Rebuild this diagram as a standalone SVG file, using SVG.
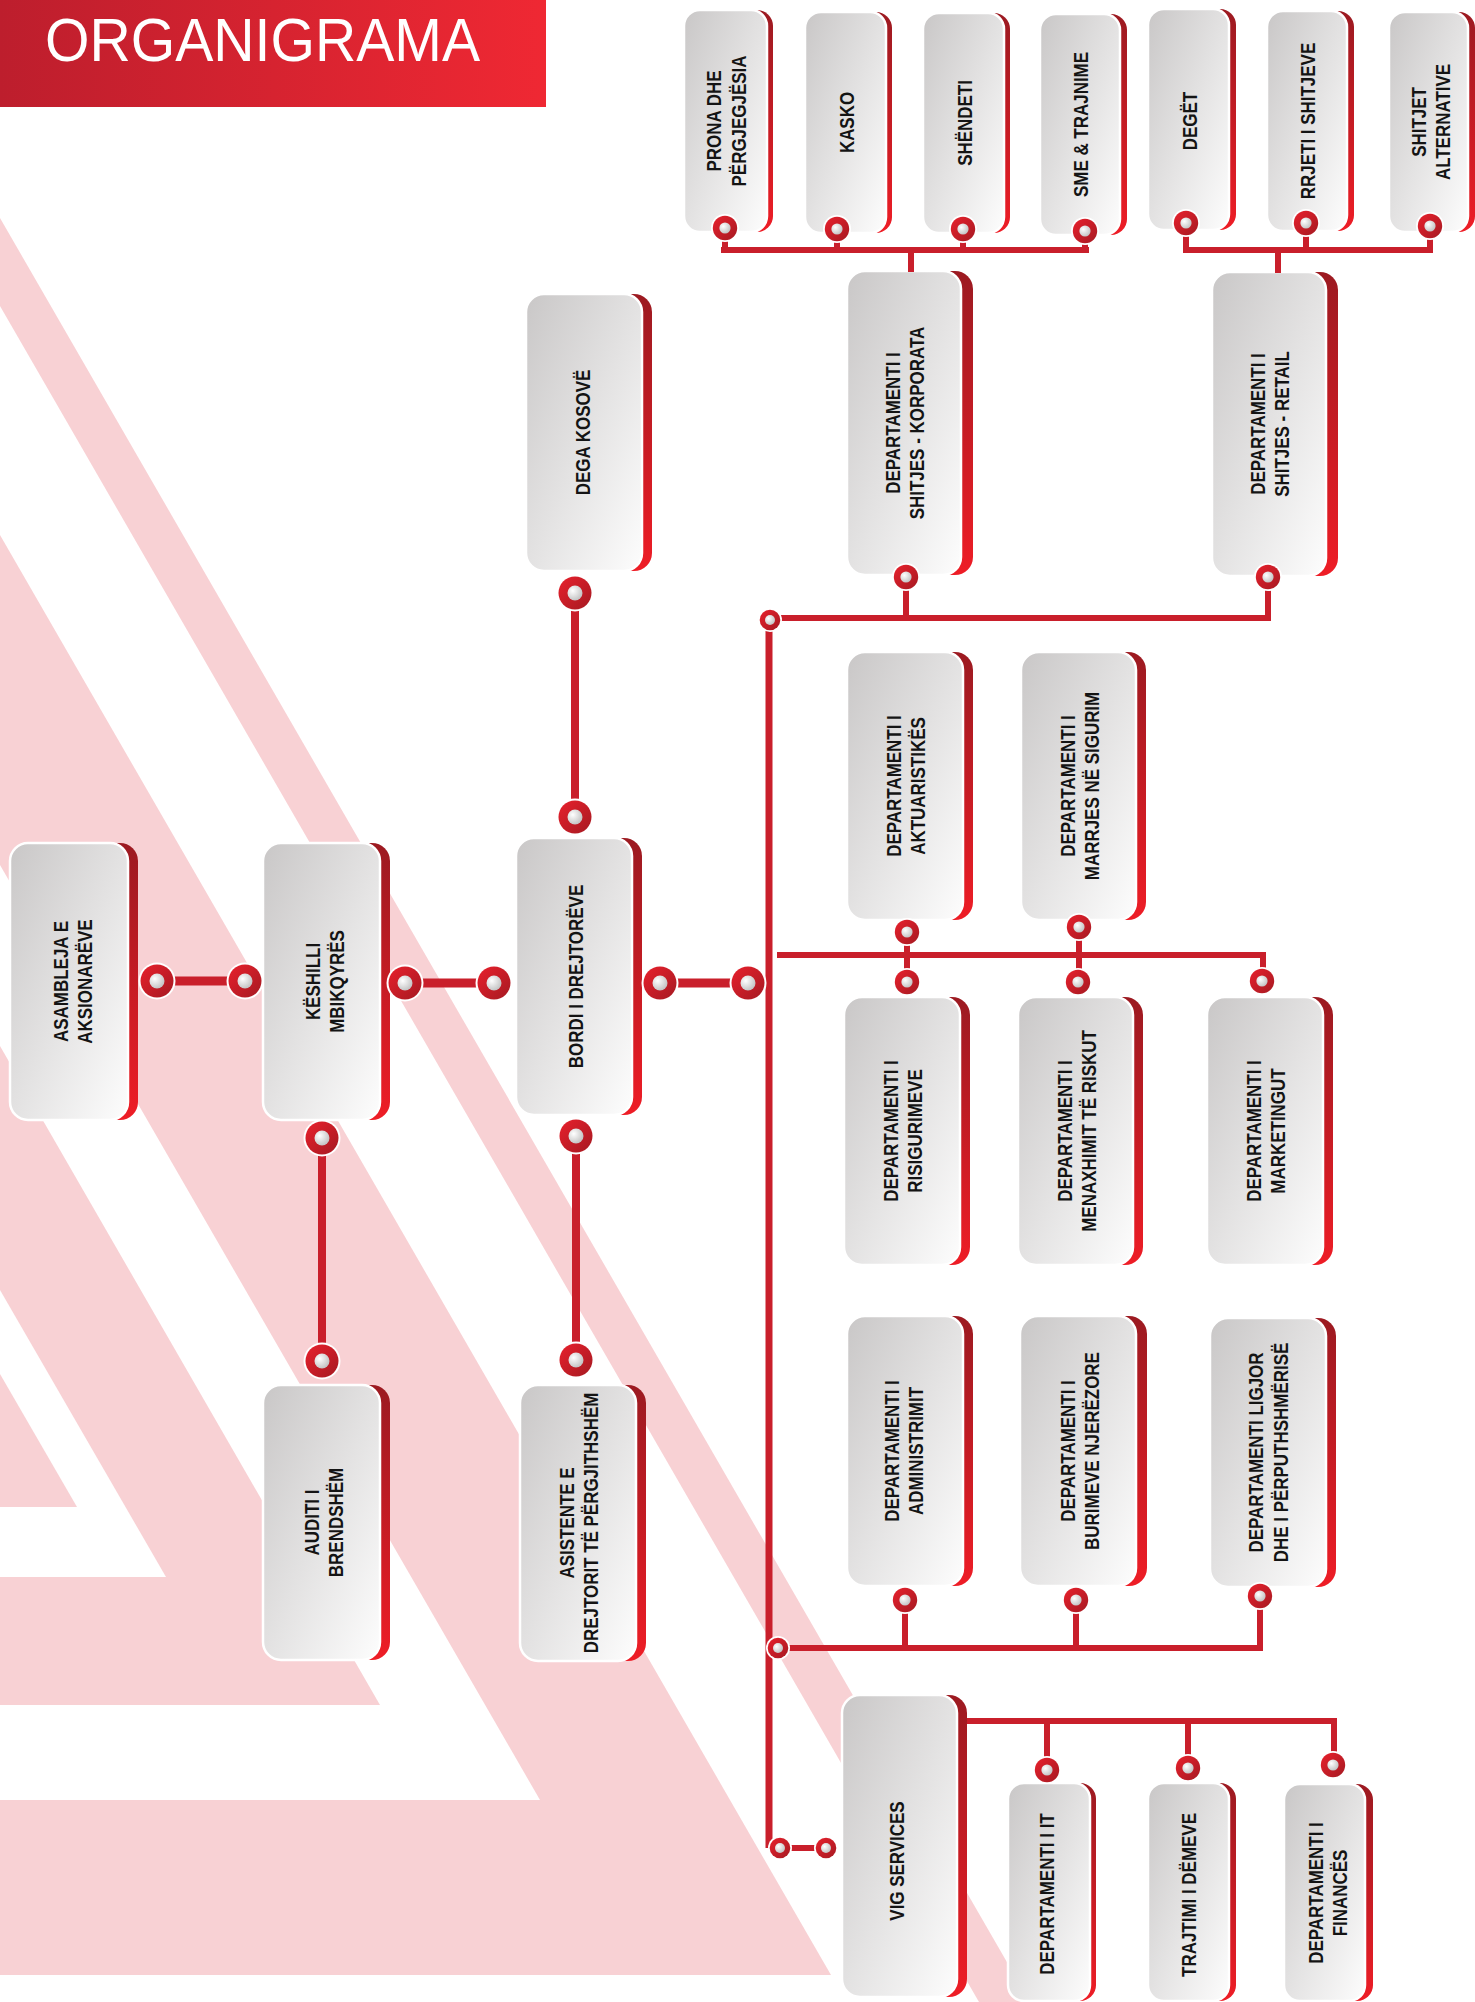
<svg xmlns="http://www.w3.org/2000/svg" width="1475" height="2002" viewBox="0 0 1475 2002">
<defs>
<linearGradient id="banner" x1="0" y1="0" x2="1" y2="0"><stop offset="0" stop-color="#bd1e2d"/><stop offset="1" stop-color="#ef2833"/></linearGradient>
<linearGradient id="gray" x1="0" y1="0" x2="1" y2="1"><stop offset="0" stop-color="#c9c7c7"/><stop offset="1" stop-color="#fdfdfd"/></linearGradient>
<linearGradient id="red" x1="0" y1="0" x2="0" y2="1"><stop offset="0" stop-color="#9c1a21"/><stop offset="1" stop-color="#ee1d26"/></linearGradient>
<linearGradient id="cr" x1="0" y1="0" x2="1" y2="1"><stop offset="0" stop-color="#e8202c"/><stop offset="1" stop-color="#a51a22"/></linearGradient>
<radialGradient id="ci" cx="0.35" cy="0.35" r="0.75"><stop offset="0" stop-color="#ffffff"/><stop offset="1" stop-color="#bdbdbd"/></radialGradient>
<g id="cL"><circle r="18.5" fill="#fff"/><circle r="16.5" fill="url(#cr)"/><circle r="7.5" fill="url(#ci)"/></g>
<g id="cM"><circle r="14" fill="#fff"/><circle r="12.2" fill="url(#cr)"/><circle r="5.6" fill="url(#ci)"/></g>
<g id="cS"><circle r="12" fill="#fff"/><circle r="10.3" fill="url(#cr)"/><circle r="5" fill="url(#ci)"/></g>
</defs>
<style>
.bg{fill:#f8d1d4}
.wh{fill:#ffffff}
.g{fill:url(#gray);stroke:#ffffff;stroke-width:2.5}
.r{fill:url(#red)}
.t{font-family:'Liberation Sans',Arial,sans-serif;font-weight:bold;font-size:19.5px;fill:#141414;text-anchor:middle}
.ln{stroke:#c91f2b;fill:none;stroke-linecap:butt}
.w9{stroke-width:9}
.w8{stroke-width:8}
.w7{stroke-width:7}
.w6{stroke-width:6}
</style>
<rect width="1475" height="2002" fill="#ffffff"/>
<g id="background">
<polygon class="bg" points="0,218 1030,2002 979,2002 0,306"/>
<polygon class="bg" points="0,535 831,1975 0,1975"/>
<polygon class="wh" points="0,865 540,1800 0,1800"/>
<polygon class="bg" points="0,1046 380,1705 0,1705"/>
<polygon class="wh" points="0,1290 166,1577 0,1577"/>
<polygon class="bg" points="0,1374 77,1507 0,1507"/>
</g>
<g id="title">
<rect x="0" y="0" width="546" height="107" fill="url(#banner)"/>
<text x="45" y="61" font-family="'Liberation Sans',Arial,sans-serif" font-size="62" fill="#ffffff" textLength="435" lengthAdjust="spacingAndGlyphs">ORGANIGRAMA</text>
</g>
<g id="nodes">
<g id="n-prona"><rect class="r" x="690" y="10" width="83" height="222" rx="16"/><rect class="g" x="684" y="10" width="83" height="222" rx="16"/><text class="t" transform="translate(726.5,121) rotate(-90) scale(0.87,1)"><tspan x="0" y="-5.25">PRONA DHE</tspan><tspan x="0" y="19.25">PËRGJEGJËSIA</tspan></text></g>
<g id="n-kasko"><rect class="r" x="811" y="12" width="81" height="221" rx="16"/><rect class="g" x="805" y="12" width="81" height="221" rx="16"/><text class="t" transform="translate(846.5,122.5) rotate(-90) scale(0.87,1)"><tspan x="0" y="7">KASKO</tspan></text></g>
<g id="n-shendeti"><rect class="r" x="929" y="13" width="81" height="220" rx="16"/><rect class="g" x="923" y="13" width="81" height="220" rx="16"/><text class="t" transform="translate(964.5,123) rotate(-90) scale(0.87,1)"><tspan x="0" y="7">SHËNDETI</tspan></text></g>
<g id="n-sme"><rect class="r" x="1047" y="14" width="80" height="221" rx="16"/><rect class="g" x="1040" y="14" width="80" height="221" rx="16"/><text class="t" transform="translate(1081,124.5) rotate(-90) scale(0.87,1)"><tspan x="0" y="7">SME &amp; TRAJNIME</tspan></text></g>
<g id="n-deget"><rect class="r" x="1155" y="9" width="81" height="221" rx="16"/><rect class="g" x="1148" y="9" width="81" height="221" rx="16"/><text class="t" transform="translate(1189.5,121) rotate(-90) scale(0.87,1)"><tspan x="0" y="7">DEGËT</tspan></text></g>
<g id="n-rrjeti"><rect class="r" x="1274" y="11" width="80" height="220" rx="16"/><rect class="g" x="1267" y="11" width="80" height="220" rx="16"/><text class="t" transform="translate(1308,121) rotate(-90) scale(0.87,1)"><tspan x="0" y="7">RRJETI I SHITJEVE</tspan></text></g>
<g id="n-shitjet-alt"><rect class="r" x="1396" y="12" width="79" height="220" rx="16"/><rect class="g" x="1389" y="12" width="79" height="220" rx="16"/><text class="t" transform="translate(1431,122) rotate(-90) scale(0.87,1)"><tspan x="0" y="-5.25">SHITJET</tspan><tspan x="0" y="19.25">ALTERNATIVE</tspan></text></g>
<g id="n-korporata"><rect class="r" x="859" y="271" width="114" height="304" rx="18"/><rect class="g" x="847" y="271" width="114" height="304" rx="18"/><text class="t" transform="translate(905,423) rotate(-90) scale(0.87,1)"><tspan x="0" y="-5.25">DEPARTAMENTI I</tspan><tspan x="0" y="19.25">SHITJES - KORPORATA</tspan></text></g>
<g id="n-retail"><rect class="r" x="1224" y="272" width="114" height="304" rx="18"/><rect class="g" x="1212" y="272" width="114" height="304" rx="18"/><text class="t" transform="translate(1270,424) rotate(-90) scale(0.87,1)"><tspan x="0" y="-5.25">DEPARTAMENTI I</tspan><tspan x="0" y="19.25">SHITJES - RETAIL</tspan></text></g>
<g id="n-dega"><rect class="r" x="536" y="294" width="116" height="277" rx="18"/><rect class="g" x="526" y="294" width="116" height="277" rx="18"/><text class="t" transform="translate(583,432.5) rotate(-90) scale(0.87,1)"><tspan x="0" y="7">DEGA KOSOVË</tspan></text></g>
<g id="n-aktuar"><rect class="r" x="857" y="652" width="116" height="268" rx="18"/><rect class="g" x="847" y="652" width="116" height="268" rx="18"/><text class="t" transform="translate(906,786) rotate(-90) scale(0.87,1)"><tspan x="0" y="-5.25">DEPARTAMENTI I</tspan><tspan x="0" y="19.25">AKTUARISTIKËS</tspan></text></g>
<g id="n-marrjes"><rect class="r" x="1031" y="652" width="115" height="268" rx="18"/><rect class="g" x="1021" y="652" width="115" height="268" rx="18"/><text class="t" transform="translate(1080,786) rotate(-90) scale(0.87,1)"><tspan x="0" y="-5.25">DEPARTAMENTI I</tspan><tspan x="0" y="19.25">MARRJES NË SIGURIM</tspan></text></g>
<g id="n-asambleja"><rect class="r" x="20" y="843" width="118" height="277" rx="18"/><rect class="g" x="10" y="843" width="118" height="277" rx="18"/><text class="t" transform="translate(73,981.5) rotate(-90) scale(0.87,1)"><tspan x="0" y="-5.25">ASAMBLEJA E</tspan><tspan x="0" y="19.25">AKSIONARËVE</tspan></text></g>
<g id="n-keshilli"><rect class="r" x="273" y="843" width="117" height="277" rx="18"/><rect class="g" x="263" y="843" width="117" height="277" rx="18"/><text class="t" transform="translate(325,981.5) rotate(-90) scale(0.87,1)"><tspan x="0" y="-5.25">KËSHILLI</tspan><tspan x="0" y="19.25">MBIKQYRËS</tspan></text></g>
<g id="n-bordi"><rect class="r" x="526" y="838" width="116" height="277" rx="18"/><rect class="g" x="516" y="838" width="116" height="277" rx="18"/><text class="t" transform="translate(576,976.5) rotate(-90) scale(0.87,1)"><tspan x="0" y="7">BORDI I DREJTORËVE</tspan></text></g>
<g id="n-risig"><rect class="r" x="854" y="997" width="116" height="268" rx="18"/><rect class="g" x="844" y="997" width="116" height="268" rx="18"/><text class="t" transform="translate(903,1131) rotate(-90) scale(0.87,1)"><tspan x="0" y="-5.25">DEPARTAMENTI I</tspan><tspan x="0" y="19.25">RISIGURIMEVE</tspan></text></g>
<g id="n-menax"><rect class="r" x="1028" y="997" width="115" height="268" rx="18"/><rect class="g" x="1018" y="997" width="115" height="268" rx="18"/><text class="t" transform="translate(1077,1131) rotate(-90) scale(0.87,1)"><tspan x="0" y="-5.25">DEPARTAMENTI I</tspan><tspan x="0" y="19.25">MENAXHIMIT TË RISKUT</tspan></text></g>
<g id="n-market"><rect class="r" x="1217" y="997" width="116" height="268" rx="18"/><rect class="g" x="1207" y="997" width="116" height="268" rx="18"/><text class="t" transform="translate(1266,1131) rotate(-90) scale(0.87,1)"><tspan x="0" y="-5.25">DEPARTAMENTI I</tspan><tspan x="0" y="19.25">MARKETINGUT</tspan></text></g>
<g id="n-auditi"><rect class="r" x="273" y="1385" width="117" height="275" rx="18"/><rect class="g" x="263" y="1385" width="117" height="275" rx="18"/><text class="t" transform="translate(324,1522.5) rotate(-90) scale(0.87,1)"><tspan x="0" y="-5.25">AUDITI I</tspan><tspan x="0" y="19.25">BRENDSHËM</tspan></text></g>
<g id="n-asistente"><rect class="r" x="530" y="1385" width="116" height="276" rx="18"/><rect class="g" x="520" y="1385" width="116" height="276" rx="18"/><text class="t" transform="translate(579,1523) rotate(-90) scale(0.87,1)"><tspan x="0" y="-5.25">ASISTENTE E</tspan><tspan x="0" y="19.25">DREJTORIT TË PËRGJITHSHËM</tspan></text></g>
<g id="n-admin"><rect class="r" x="857" y="1316" width="116" height="270" rx="18"/><rect class="g" x="847" y="1316" width="116" height="270" rx="18"/><text class="t" transform="translate(904,1451) rotate(-90) scale(0.87,1)"><tspan x="0" y="-5.25">DEPARTAMENTI I</tspan><tspan x="0" y="19.25">ADMINISTRIMIT</tspan></text></g>
<g id="n-burim"><rect class="r" x="1031" y="1316" width="116" height="270" rx="18"/><rect class="g" x="1020" y="1316" width="116" height="270" rx="18"/><text class="t" transform="translate(1080,1451) rotate(-90) scale(0.87,1)"><tspan x="0" y="-5.25">DEPARTAMENTI I</tspan><tspan x="0" y="19.25">BURIMEVE NJERËZORE</tspan></text></g>
<g id="n-ligjor"><rect class="r" x="1220" y="1318" width="116" height="269" rx="18"/><rect class="g" x="1210" y="1318" width="116" height="269" rx="18"/><text class="t" transform="translate(1268.5,1452.5) rotate(-90) scale(0.87,1)"><tspan x="0" y="-5.25">DEPARTAMENTI LIGJOR</tspan><tspan x="0" y="19.25">DHE I PËRPUTHSHMËRISË</tspan></text></g>
<g id="n-vig"><rect class="r" x="852" y="1695" width="115" height="302" rx="18"/><rect class="g" x="842" y="1695" width="115" height="302" rx="18"/><text class="t" transform="translate(897,1861) rotate(-90) scale(0.87,1)"><tspan x="0" y="7">VIG SERVICES</tspan></text></g>
<g id="n-it"><rect class="r" x="1014" y="1783" width="82" height="218" rx="16"/><rect class="g" x="1008" y="1783" width="82" height="218" rx="16"/><text class="t" transform="translate(1047,1894) rotate(-90) scale(0.87,1)"><tspan x="0" y="7">DEPARTAMENTI I IT</tspan></text></g>
<g id="n-trajtimi"><rect class="r" x="1155" y="1783" width="81" height="218" rx="16"/><rect class="g" x="1148" y="1783" width="81" height="218" rx="16"/><text class="t" transform="translate(1189,1895) rotate(-90) scale(0.87,1)"><tspan x="0" y="7">TRAJTIMI I DËMEVE</tspan></text></g>
<g id="n-financa"><rect class="r" x="1292" y="1784" width="81" height="217" rx="16"/><rect class="g" x="1284" y="1784" width="81" height="217" rx="16"/><text class="t" transform="translate(1328,1893) rotate(-90) scale(0.87,1)"><tspan x="0" y="-5.25">DEPARTAMENTI I</tspan><tspan x="0" y="19.25">FINANCËS</tspan></text></g>
</g>
<g id="connectors">
<path class="ln w6" d="M725,228 V250 M837,229 V250 M963,229 V250 M1085,231 V250 M721,250 H1089 M911,250 V272"/>
<path class="ln w6" d="M1186,223 V250 M1306,223 V250 M1430,226 V250 M1183,250 H1433 M1278,250 V273"/>
<path class="ln w6" d="M906,577 V618 M780,618 H1268 V577"/>
<path class="ln w7" d="M769,622 V1848"/>
<path class="ln w8" d="M575,593 V817"/>
<path class="ln w9" d="M157,981 H245 M405,983 H494 M660,983 H748"/>
<path class="ln w8" d="M322,1138 V1361 M576,1136 V1360"/>
<path class="ln w6" d="M777,955 H1263 V981 M907,932 V982 M1079,927 V982"/>
<path class="ln w6" d="M778,1648 H1260 V1596 M905,1648 V1600 M1076,1648 V1600"/>
<path class="ln w6" d="M780,1848 H826"/>
<path class="ln w6" d="M967,1721 H1334 V1765 M1047,1721 V1770 M1188,1721 V1768"/>
<use href="#cM" x="725" y="228"/>
<use href="#cM" x="837" y="229"/>
<use href="#cM" x="963" y="229"/>
<use href="#cM" x="1085" y="231"/>
<use href="#cM" x="1186" y="223"/>
<use href="#cM" x="1306" y="223"/>
<use href="#cM" x="1430" y="226"/>
<use href="#cM" x="906" y="577"/>
<use href="#cM" x="1268" y="577"/>
<use href="#cS" x="770" y="620"/>
<use href="#cL" x="575" y="593"/>
<use href="#cL" x="575" y="817"/>
<use href="#cL" x="157" y="981"/>
<use href="#cL" x="245" y="981"/>
<use href="#cL" x="405" y="983"/>
<use href="#cL" x="494" y="983"/>
<use href="#cL" x="660" y="983"/>
<use href="#cL" x="748" y="983"/>
<use href="#cL" x="322" y="1138"/>
<use href="#cL" x="322" y="1361"/>
<use href="#cL" x="576" y="1136"/>
<use href="#cL" x="576" y="1360"/>
<use href="#cM" x="907" y="932"/>
<use href="#cM" x="1079" y="927"/>
<use href="#cM" x="907" y="982"/>
<use href="#cM" x="1078" y="982"/>
<use href="#cM" x="1262" y="981"/>
<use href="#cM" x="905" y="1600"/>
<use href="#cM" x="1076" y="1600"/>
<use href="#cM" x="1260" y="1596"/>
<use href="#cS" x="778" y="1648"/>
<use href="#cS" x="780" y="1848"/>
<use href="#cS" x="826" y="1848"/>
<use href="#cM" x="1047" y="1770"/>
<use href="#cM" x="1188" y="1768"/>
<use href="#cM" x="1333" y="1765"/>
</g>
</svg>
